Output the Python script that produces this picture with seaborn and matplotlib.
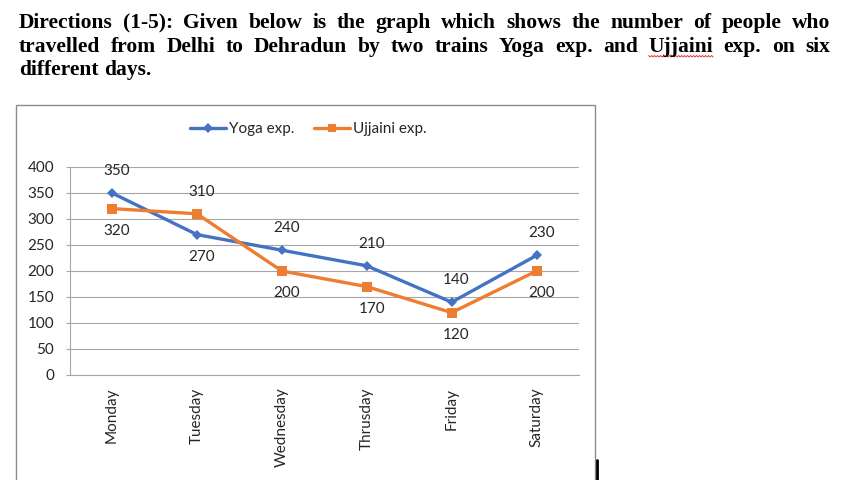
import numpy as np
import pandas as pd
import matplotlib
matplotlib.use("Agg")
import matplotlib.pyplot as plt
import seaborn as sns
from matplotlib.patches import Rectangle
from matplotlib.lines import Line2D

# chart data
days = ["Monday", "Tuesday", "Wednesday", "Thrusday", "Friday", "Saturday"]
yoga = [350, 270, 240, 210, 140, 230]
ujjaini = [320, 310, 200, 170, 120, 200]
series_names = ["Yoga exp.", "Ujjaini exp."]
# which side of the point each value label sits on
yoga_label_side = ["above", "below", "above", "above", "above", "above"]
ujjaini_label_side = ["below", "above", "below", "below", "below", "below"]
y_ticks = [0, 50, 100, 150, 200, 250, 300, 350, 400]

title_lines = [
    "Directions (1-5): Given below is the graph which shows the number of people who",
    "travelled from Delhi to Dehradun by two trains Yoga exp. and Ujjaini exp. on six",
    "different days.",
]

W, H = 860, 480
BLUE = "#4472C4"
ORANGE = "#ED7D31"
GRID = "#A6A6A6"
TEXT = "#262626"
FS = 11

sns.set_style("white")
plt.rcParams["font.family"] = ["Lato", "DejaVu Sans"]

fig = plt.figure(figsize=(W / 100, H / 100), dpi=100)
fig.patch.set_facecolor("white")

# outer chart frame (bottom runs off the picture)
fig.add_artist(Rectangle((16 / W, -0.02), (595 - 16) / W, 1 - 105 / H + 0.02,
                         transform=fig.transFigure, fill=False,
                         edgecolor="#8C8C8C", lw=1.0))
fig.add_artist(Line2D([597 / W, 597 / W], [0, 20 / H], transform=fig.transFigure,
                      color="black", lw=2))

ax = fig.add_axes([69.6 / W, 1 - 375 / H, (579 - 69.6) / W, (375 - 167) / H])

df = pd.DataFrame({
    "day": days * 2,
    "people": yoga + ujjaini,
    "train": [series_names[0]] * len(days) + [series_names[1]] * len(days),
})

sns.lineplot(
    data=df, x="day", y="people", hue="train", style="train",
    palette={series_names[0]: BLUE, series_names[1]: ORANGE},
    markers={series_names[0]: "D", series_names[1]: "s"},
    dashes=False, sort=False, linewidth=2.4, markersize=5.5,
    markeredgewidth=0, ax=ax,
)
# orange squares a bit larger
for line in ax.lines:
    if line.get_marker() == "s":
        line.set_markersize(6.5)

ax.set_xlim(-0.5, len(days) - 0.5)
ax.set_ylim(0, 400)
ax.set_yticks(y_ticks)
ax.set_xlabel("")
ax.set_ylabel("")

ax.yaxis.grid(True, color=GRID, lw=0.8)
ax.xaxis.grid(False)
ax.set_axisbelow(True)
for side in ["top", "right"]:
    ax.spines[side].set_visible(False)
for side in ["left", "bottom"]:
    ax.spines[side].set_color(GRID)
    ax.spines[side].set_linewidth(0.8)

ax.tick_params(axis="x", which="major", length=0, pad=9, labelrotation=90,
               labelsize=FS, labelcolor=TEXT)
ax.set_xticks(np.arange(-0.5, len(days)), minor=True)
ax.tick_params(axis="x", which="minor", length=4, color=GRID, width=0.8)
ax.tick_params(axis="y", length=3, color=GRID, width=0.8, pad=8,
               labelsize=FS, labelcolor=TEXT, left=True)

# value labels
for vals, sides in [(yoga, yoga_label_side), (ujjaini, ujjaini_label_side)]:
    for d, v, s in zip(days, vals, sides):
        dy = 16 if s == "above" else -16
        ax.annotate(str(v), (d, v), xytext=(3.5, dy), textcoords="offset points",
                    ha="center", va="center", fontsize=FS, color=TEXT)

sns.move_legend(ax, loc="center", bbox_to_anchor=(308 / W, 1 - 129 / H),
                bbox_transform=fig.transFigure, ncol=2, frameon=False,
                title=None, fontsize=FS, handlelength=2.4, columnspacing=1.3,
                handletextpad=0.15)

# justified heading
renderer = fig.canvas.get_renderer()
title_kw = dict(family="Liberation Serif", weight="bold", size=15.5, color="black")
x_left, x_right = 19, 830
baselines = [28, 52, 75]
for i, (line, base) in enumerate(zip(title_lines, baselines)):
    words = line.split(" ")
    texts = [fig.text(0, 1 - base / H, w, va="baseline", ha="left", **title_kw) for w in words]
    widths = [t.get_window_extent(renderer).width for t in texts]
    if i < len(title_lines) - 1:
        gap = (x_right - x_left - sum(widths)) / (len(words) - 1)
    else:
        space = fig.text(0, 0, "a b", **title_kw)
        ab = space.get_window_extent(renderer).width
        a = fig.text(0, 0, "ab", **title_kw)
        gap = ab - a.get_window_extent(renderer).width
        space.remove()
        a.remove()
    x = x_left
    for t, w, wd in zip(texts, words, widths):
        t.set_x(x / W)
        if w == "Ujjaini":
            # spell-check squiggle under the word
            zx = np.arange(x, x + wd + 0.1, 1.5)
            zy = np.where(np.arange(len(zx)) % 2 == 0, base + 3.5, base + 5)
            fig.add_artist(Line2D(zx / W, 1 - zy / H, transform=fig.transFigure,
                                  color="#E02020", lw=0.6))
        x += wd + gap

fig.savefig("out.png", dpi=100, facecolor="white")
